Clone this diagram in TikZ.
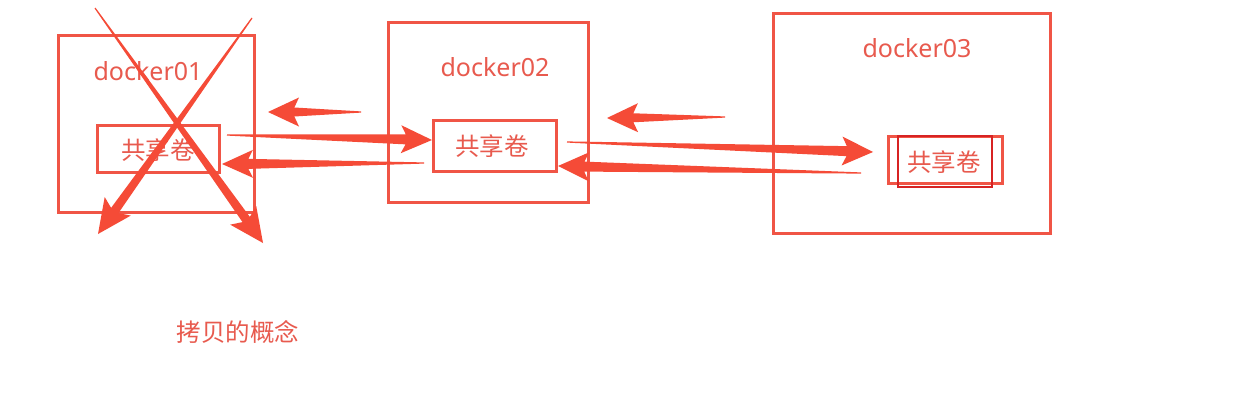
\documentclass[tikz,border=0pt]{standalone}
\usepackage{fontspec}
\setmainfont{Noto Sans}
\newfontfamily\cjk{Noto Sans CJK SC}
\usetikzlibrary{calc}
\definecolor{boxred}{RGB}{240,85,70}
\definecolor{arrred}{RGB}{245,75,55}
\definecolor{txtred}{RGB}{232,90,78}
\definecolor{darkred}{RGB}{215,35,35}
% tail, tip, tail half-width, neck half-width, head length, head half-width
\newcommand\taper[6]{%
  \path ($(#2)!#5!(#1)$) coordinate (hb) ($(#2)!0.85*#5!(#1)$) coordinate (hn);
  \fill[arrred] ($(#1)!#3!90:(#2)$) -- ($(hn)!#4!90:(#2)$) -- ($(hb)!#6!90:(#2)$) -- (#2)
    -- ($(hb)!#6!-90:(#2)$) -- ($(hn)!#4!-90:(#2)$) -- ($(#1)!#3!-90:(#2)$) -- cycle;
}
\begin{document}
\begin{tikzpicture}[x=1pt,y=-1pt,
  container/.style={draw=boxred,line width=3pt,inner sep=0pt},
  volbox/.style={draw=boxred,line width=3pt,inner sep=0pt},
  thinbox/.style={draw=darkred,line width=1.5pt,inner sep=0pt},
  title/.style={text=txtred,font=\fontsize{25}{28}\selectfont,inner sep=0pt},
  cjklabel/.style={text=txtred,font=\cjk\fontsize{24.5}{28}\selectfont,inner sep=0pt}]
\useasboundingbox (0,0) rectangle (1246,402);
\fill[white] (0,0) rectangle (1246,402);

% containers
\node[container,minimum width=196pt,minimum height=177pt] (d1) at (156,123.5) {};
\node[container,minimum width=200pt,minimum height=180pt] (d2) at (488,112) {};
\node[container,minimum width=277pt,minimum height=220pt] (d3) at (911.5,123) {};

\node[title] (t1) at (148,71) {docker01};
\node[title] (t2) at (495,67) {docker02};
\node[title] (t3) at (917,48) {docker03};

% volumes
\node[volbox,minimum width=122pt,minimum height=47pt] (v1) at (158,148.5) {};
\node[volbox,minimum width=123pt,minimum height=51pt] (v2) at (494.5,145.5) {};
\node[volbox,minimum width=114pt,minimum height=47pt] (v3) at (945,159.5) {};
\node[thinbox,minimum width=94pt,minimum height=51pt] (v3b) at (945,161.5) {};

\node[cjklabel] (l1) at (158,150) {共享卷};
\node[cjklabel] (l2) at (492,146) {共享卷};
\node[cjklabel] (l3) at (944,162) {共享卷};

\node[cjklabel] (cap) at (238,332) {拷贝的概念};

% arrow end points
\coordinate (a1t) at (361,112); \coordinate (a1h) at (268,112);
\coordinate (a2t) at (227,135); \coordinate (a2h) at (432,140);
\coordinate (a3t) at (424,163); \coordinate (a3h) at (222,164);
\coordinate (a4t) at (725,117); \coordinate (a4h) at (607,118);
\coordinate (a5t) at (567,142); \coordinate (a5h) at (873,152);
\coordinate (a6t) at (861,173); \coordinate (a6h) at (558,166);
\coordinate (x1t) at (95,8);   \coordinate (x1h) at (263,243);
\coordinate (x2t) at (252,18); \coordinate (x2h) at (98,234);

\taper{a1t}{a1h}{0.6pt}{4.5pt}{31pt}{14.5pt}
\taper{a2t}{a2h}{0.6pt}{5pt}{31pt}{14pt}
\taper{a3t}{a3h}{0.6pt}{5pt}{31pt}{14pt}
\taper{a4t}{a4h}{0.6pt}{4.5pt}{31pt}{14.5pt}
\taper{a5t}{a5h}{0.6pt}{5pt}{31pt}{14.5pt}
\taper{a6t}{a6h}{0.6pt}{5pt}{31pt}{14.5pt}
\taper{x1t}{x1h}{0.6pt}{4.5pt}{34pt}{16pt}
\taper{x2t}{x2h}{0.6pt}{4.5pt}{34pt}{16pt}
\end{tikzpicture}
\end{document}
